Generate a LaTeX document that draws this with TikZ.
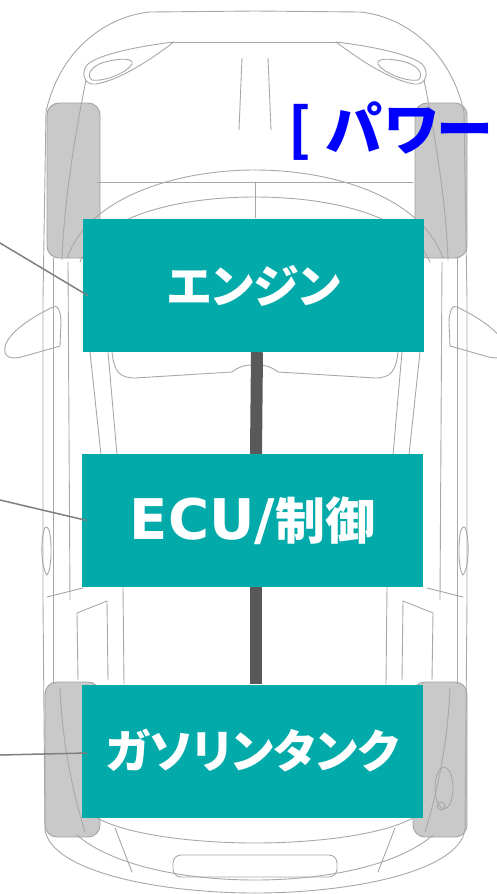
\documentclass[tikz,border=0pt]{standalone}
\usepackage{fontspec}
\newfontfamily\jpfont{Noto Sans CJK JP}[RawFeature=+palt]
\newfontfamily\latinbold{DejaVu Sans}
\usetikzlibrary{calc}
\definecolor{tealbox}{HTML}{02ABAA}
\definecolor{cargray}{HTML}{A8A8A8}
\definecolor{wheelfill}{HTML}{C9C9C9}
\definecolor{wheeledge}{HTML}{A2A2A2}
\definecolor{barcol}{HTML}{595959}
\definecolor{leadcol}{HTML}{7F7F7F}
\definecolor{titleblue}{HTML}{0000FF}
\tikzset{
  carline/.style={draw=cargray, line width=0.9pt, line join=round, line cap=round},
  wheel/.style={fill=wheelfill, draw=wheeledge, line width=0.9pt, rounded corners=12pt},
  partbox/.style={fill=tealbox, text=white, minimum width=341pt, minimum height=133pt,
    inner sep=0pt, font=\jpfont\bfseries\fontsize{46}{50}\selectfont},
  linkbar/.style={draw=barcol, line width=12pt},
  leader/.style={draw=leadcol, line width=1.5pt},
}
% one half of the car body outline (left side, y pointing down)
\newcommand\carbodyhalf{%
  % body outline
  \draw[carline] (255,11) -- (150,12) .. controls (108,16) and (60,48) .. (46,112)
    -- (43,300) -- (43,600) -- (45,830) .. controls (52,872) and (160,893) .. (255,893);
  \draw[carline] (53,258) -- (53,684);
  \draw[carline] (68,262) -- (70,600);
  % hood front edge and headlamp
  \draw[carline] (255,42) -- (174,42);
  \draw[carline] (174,42) .. controls (140,46) and (100,54) .. (88,64)
    .. controls (80,72) and (84,86) .. (96,84) .. controls (120,80) and (150,60) .. (174,42);
  \draw[carline] (92,80) .. controls (86,76) and (90,66) .. (105,62)
    .. controls (120,58) and (134,58) .. (132,64) .. controls (128,72) and (105,82) .. (92,80);
  % fender line into the front arch
  \draw[carline] (86,80) .. controls (76,130) and (64,200) .. (62,260);
  % hood crease
  \draw[carline] (242,58) -- (239,130);
  % cowl and windscreen
  \draw[carline] (97,182) -- (255,182);
  \draw[carline] (67,258) .. controls (90,195) and (180,170) .. (255,170);
  \draw[carline] (80,262) .. controls (100,215) and (180,197) .. (255,197);
  % door mirror
  \draw[carline] (53,307) .. controls (30,318) and (8,333) .. (5,347)
    .. controls (3,358) and (12,360) .. (25,356) -- (60,346) -- (61,322)
    .. controls (61,311) and (57,304) .. (53,307);
  % pillars and dashboard
  \draw[carline] (90,352) -- (101,455);
  \draw[carline] (108,352) -- (117,455);
  \draw[carline] (112,352) .. controls (114,372) and (120,378) .. (135,378) -- (232,372)
    .. controls (240,366) and (245,365) .. (255,365);
  % door handle
  \draw[carline] (44,530) .. controls (40,545) and (42,570) .. (47,575)
    .. controls (52,570) and (52,540) .. (49,530) .. controls (47,526) and (45,526) .. (44,530);
  % rear quarter
  \draw[carline] (47,597) -- (83,588);
  \draw[carline] (78,680) -- (77,613) -- (107,601) -- (108,680);
  \draw[carline] (123,587) -- (124,684);
  \draw[carline] (60,688) .. controls (62,740) and (72,790) .. (85,832);
  % tail
  \draw[carline] (97,818) .. controls (130,836) and (200,843) .. (255,843);
  \draw[carline] (77,835) .. controls (110,864) and (180,880) .. (255,880);
  \draw[carline] (115,828) -- (132,872);
}
\begin{document}
\begin{tikzpicture}[x=1pt, y=-1pt]
  \useasboundingbox (0,0) rectangle (497,894);
  \clip (0,0) rectangle (497,894);
  \fill[white] (0,0) rectangle (497,894);

  % wheels
  \draw[wheel] (47,103) rectangle (100,258);
  \draw[wheel] (415,103) rectangle (467,258);
  \draw[wheel] (45,682) rectangle (100,837);
  \draw[wheel] (413,682) rectangle (467,837);

  % car body, drawn as two mirrored halves
  \carbodyhalf
  \begin{scope}[cm={-1,0,0,1,(510pt,0pt)}]
    \carbodyhalf
  \end{scope}
  \draw[carline] (255,182) -- (255,218);
  \draw[carline, rounded corners=8pt] (173,855) rectangle (337,877);
  \draw[carline] (444,788) ellipse [x radius=9, y radius=21];
  \draw[carline] (441,806) circle [radius=4];

  % component boxes
  \node[partbox] (eng) at (253.5,285.5) {エンジン};
  \node[partbox] (ecu) at (252.5,520.5)
    {{\latinbold\bfseries\fontsize{56}{60}\selectfont ECU/}{\fontsize{50}{54}\selectfont 制御}};
  \node[partbox] (gas) at (252.5,751) {ガソリンタンク};

  % links between the boxes
  \draw[linkbar] ([xshift=3.5pt]eng.south) -- ([xshift=3.5pt]ecu.north);
  \draw[linkbar] ([xshift=3.5pt]ecu.south) -- ([xshift=3.5pt]gas.north);

  % leader lines from the left edge
  \coordinate (engsrc) at (0,243);
  \coordinate (ecusrc) at (0,500);
  \coordinate (gassrc) at (0,755);
  \draw[leader] (engsrc) -- ([shift={(5,10)}]eng.west);
  \draw[leader] (ecusrc) -- ([shift={(5,0)}]ecu.west);
  \draw[leader] (gassrc) -- ([shift={(5,2)}]gas.west);

  % heading
  \node[anchor=base west, inner sep=0pt, text=titleblue,
    font=\jpfont\bfseries\fontsize{57}{60}\selectfont] (title) at (288,150)
    {[\hspace{2pt} パ\hspace{2pt}ワー};
\end{tikzpicture}
\end{document}
